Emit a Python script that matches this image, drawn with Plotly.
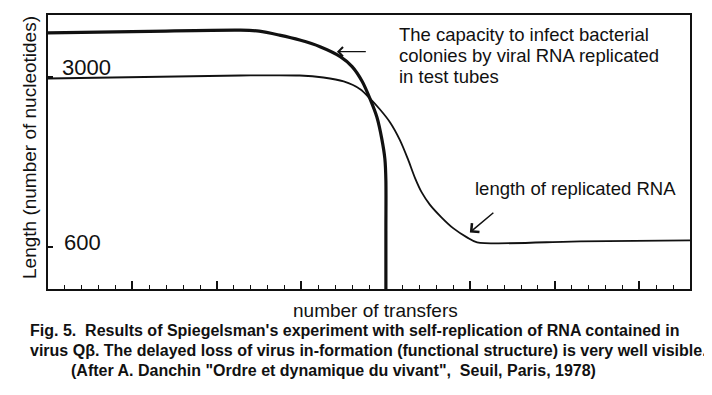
import plotly.graph_objects as go

# Capacity to infect (thick curve) - number of transfers vs value
cap_x = [0, 6.0, 11.4, 12.5, 13.7, 14.9, 16.1, 17.3, 18.0, 18.6, 19.05, 19.47, 19.76, 19.94, 20.0, 20.0, 20.0]
cap_y = [3627, 3649, 3665, 3651, 3595, 3525, 3431, 3290, 3149, 2938, 2699, 2432, 2123, 1842, 1533, 830, 0]

# Length of replicated RNA (thin curve)
len_x = [0, 11.4, 14.9, 16.3, 17.5, 18.5, 19.05, 19.64, 20.24, 20.83, 21.3, 21.72, 22.13, 22.6, 23.3, 24.0, 24.8, 25.4, 31.5, 38]
len_y = [2981, 3023, 3023, 2995, 2939, 2826, 2699, 2545, 2362, 2109, 1842, 1575, 1364, 1195, 1012, 858, 731, 661, 675, 689]

ytick_vals = [3000, 600]
ytick_text = ["3000", "600"]

cap_lines = ["The capacity to infect bacterial",
             "colonies by viral RNA replicated",
             "in test tubes"]
caption = ["Fig. 5.&nbsp; Results of Spiegelsman's experiment with self-replication of RNA contained in",
           "virus Q\u03b2. The delayed loss of virus in-formation (functional structure) is very well visible.",
           "(After A. Danchin \"Ordre et dynamique du vivant\",&nbsp; Seuil, Paris, 1978)"]

INK = "#111111"
FONT = "Liberation Sans, Arial, sans-serif"

fig = go.Figure()
fig.add_trace(go.Scatter(x=len_x, y=len_y, mode="lines",
                         line=dict(color=INK, width=1.8, shape="spline", smoothing=0.8),
                         hoverinfo="skip", showlegend=False))
fig.add_trace(go.Scatter(x=cap_x, y=cap_y, mode="lines",
                         line=dict(color=INK, width=3.2, shape="spline", smoothing=0.8),
                         hoverinfo="skip", showlegend=False))

ann = []
# y tick labels (inside)
for v, t, dy, dx in zip(ytick_vals, ytick_text, [10, 4], [12, 14]):
    ann.append(dict(x=0, xref="paper", y=v, yref="y", text=t, showarrow=False,
                    xanchor="left", yanchor="middle", xshift=dx, yshift=dy,
                    font=dict(size=22, color=INK, family=FONT)))
# capacity annotation lines
for line, yv in zip(cap_lines, [3599, 3304, 3009]):
    ann.append(dict(x=20.65, y=yv, xref="x", yref="y", text=line, showarrow=False,
                    xanchor="left", yanchor="middle",
                    font=dict(size=18.5, color=INK, family=FONT)))
ann.append(dict(x=25.15, y=1420, xref="x", yref="y", text="length of replicated RNA",
                showarrow=False, xanchor="left", yanchor="middle",
                font=dict(size=18.5, color=INK, family=FONT)))
# arrows
ann.append(dict(x=17.1, y=3360, ax=18.9, ay=3360, xref="x", yref="y", axref="x", ayref="y",
                text="", showarrow=True, arrowhead=4, arrowsize=1.5, arrowwidth=1.2,
                arrowcolor=INK))
ann.append(dict(x=24.97, y=801, ax=26.45, ay=1097, xref="x", yref="y", axref="x", ayref="y",
                text="", showarrow=True, arrowhead=4, arrowsize=1.5, arrowwidth=1.5,
                arrowcolor=INK))
# axis titles
ann.append(dict(x=0.5, y=0, xref="paper", yref="paper", text="number of transfers",
                showarrow=False, xanchor="center", yanchor="middle", xshift=6, yshift=-21,
                font=dict(size=19, color=INK, family=FONT)))
ann.append(dict(x=0, y=0.5, xref="paper", yref="paper", text="Length (number of nucleotides)",
                showarrow=False, xanchor="center", yanchor="middle", xshift=-19, yshift=4,
                textangle=-90, font=dict(size=19, color=INK, family=FONT)))
# caption
for line, ys, xs in zip(caption, [-41, -61, -81], [-20, -20, 21]):
    ann.append(dict(x=0, y=0, xref="paper", yref="paper", text="<b>" + line + "</b>",
                    showarrow=False, xanchor="left", yanchor="middle", xshift=xs, yshift=ys,
                    font=dict(size=16, color=INK, family=FONT)))

# page body has an 8px margin, so the figure starts 8px in from the window edge
fig.update_layout(
    width=704, height=387,
    margin=dict(l=40, r=22, t=5, b=106),
    paper_bgcolor="white", plot_bgcolor="white",
    annotations=ann,
    xaxis=dict(range=[0, 38], showgrid=False, zeroline=False, showline=True,
               linecolor=INK, linewidth=2, mirror=True,
               ticks="inside", dtick=5, tick0=0, ticklen=8, tickwidth=1.5, tickcolor=INK,
               showticklabels=False,
               minor=dict(dtick=1, ticks="inside", ticklen=4, tickwidth=1.2, tickcolor=INK)),
    yaxis=dict(range=[0, 3880], showgrid=False, zeroline=False, showline=True,
               linecolor=INK, linewidth=2, mirror=True,
               tickvals=ytick_vals, ticks="inside", ticklen=5, tickwidth=1.5,
               tickcolor=INK, showticklabels=False),
)

fig.write_html("out.html")
